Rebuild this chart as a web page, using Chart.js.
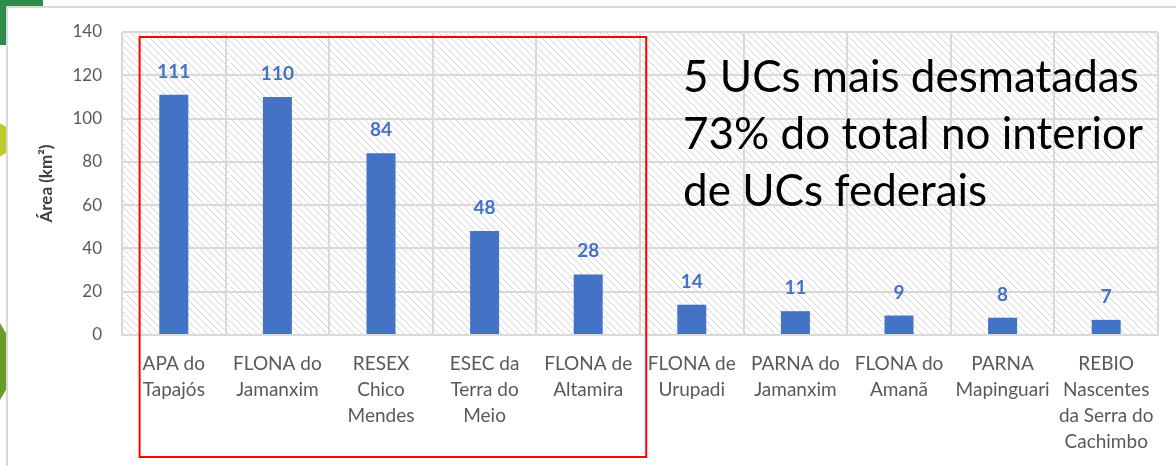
<!DOCTYPE html>
<html>
<head>
<meta charset="utf-8">
<script src="https://cdn.jsdelivr.net/npm/chart.js@4"></script>
<style>
  html, body { margin: 0; padding: 0; background: #fff; overflow: hidden; }
  #wrap { position: relative; width: 1176px; height: 466px; }
  .deco { position: absolute; }
  #frame { position: absolute; left: 6px; top: 6px; width: 1180px; height: 470px;
           border: 2px solid #d9d9d9; background: #fff; }
  #c { position: absolute; left: 0; top: 0; }
  #note { position: absolute; left: 683px; top: 47px; font-family: Lato, sans-serif;
          font-size: 44px; line-height: 57px; color: #000; white-space: nowrap; }
</style>
</head>
<body>
<div id="wrap">
  <div class="deco" style="left:0;top:0;width:43px;height:45px;background:#2f8a4c;"></div>
  <div class="deco" style="left:-22px;top:123px;width:34px;height:34px;border-radius:50%;background:#b9cc27;"></div>
  <div class="deco" style="left:0;top:323px;width:9px;height:77px;background:#6a9a2b;clip-path:polygon(0 0,100% 20%,100% 80%,0 100%);"></div>
  <div id="frame"></div>
  <canvas id="c" width="1176" height="466"></canvas>
  <div id="note">5 UCs mais desmatadas<br>73% do total no interior<br>de UCs federais</div>
</div>
<script>
var categories = [
  ["APA do", "Tapajós"],
  ["FLONA do", "Jamanxim"],
  ["RESEX", "Chico", "Mendes"],
  ["ESEC da", "Terra do", "Meio"],
  ["FLONA de", "Altamira"],
  ["FLONA de", "Urupadi"],
  ["PARNA do", "Jamanxim"],
  ["FLONA do", "Amanã"],
  ["PARNA", "Mapinguari"],
  ["REBIO", "Nascentes", "da Serra do", "Cachimbo"]
];
var area = [111, 110, 84, 48, 28, 14, 11, 9, 8, 7];
var yTicks = [0, 20, 40, 60, 80, 100, 120, 140];
var topCount = 5;

// hatched plot background
var hatch = {
  id: 'hatch',
  beforeDraw: function(chart) {
    var a = chart.chartArea, ctx = chart.ctx;
    var p = document.createElement('canvas');
    p.width = 7; p.height = 7;
    var pc = p.getContext('2d');
    pc.strokeStyle = '#d6d6d6';
    pc.lineWidth = 1;
    pc.beginPath();
    pc.moveTo(-1, -1); pc.lineTo(8, 8);
    pc.moveTo(-1, 6); pc.lineTo(1, 8);
    pc.moveTo(6, -1); pc.lineTo(8, 1);
    pc.stroke();
    ctx.save();
    ctx.fillStyle = ctx.createPattern(p, 'repeat');
    ctx.fillRect(a.left, a.top, a.right - a.left, a.bottom - a.top);
    ctx.restore();
  }
};

// value labels above bars
var valueLabels = {
  id: 'valueLabels',
  afterDatasetsDraw: function(chart) {
    var ctx = chart.ctx;
    var meta = chart.getDatasetMeta(0);
    ctx.save();
    ctx.font = 'bold 19px Lato, sans-serif';
    ctx.fillStyle = '#4472c4';
    ctx.textAlign = 'center';
    ctx.textBaseline = 'alphabetic';
    meta.data.forEach(function(bar, i) {
      ctx.fillText(area[i], bar.x, bar.y - 17);
    });
    ctx.restore();
  }
};

// red box around the top five
var redBox = {
  id: 'redBox',
  afterDraw: function(chart) {
    var xs = chart.scales.x, ys = chart.scales.y, ctx = chart.ctx;
    var step = xs.width / categories.length;
    var l = xs.getPixelForValue(0) - step * 0.33;
    var r = xs.getPixelForValue(topCount - 1) + step * 0.56;
    var t = ys.getPixelForValue(140) + 5;
    var b = chart.height - 9;
    ctx.save();
    ctx.strokeStyle = '#ff0000';
    ctx.lineWidth = 2;
    ctx.strokeRect(l, t, r - l, b - t);
    ctx.restore();
  }
};

var ctx = document.getElementById('c');
var chart = new Chart(ctx, {
  type: 'bar',
  data: {
    labels: categories,
    datasets: [{
      data: area,
      backgroundColor: '#4472c4',
      borderWidth: 0,
      barPercentage: 0.28,
      categoryPercentage: 1.0
    }]
  },
  options: {
    responsive: false,
    animation: false,
    layout: { padding: { top: 32, right: 18, left: 0, bottom: 0 } },
    plugins: { legend: { display: false }, tooltip: { enabled: false } },
    scales: {
      x: {
        grid: { color: '#d9d9d9', lineWidth: 2, drawTicks: false, offset: true },
        border: { color: '#d9d9d9', width: 2 },
        ticks: {
          color: '#595959', font: { family: 'Lato, sans-serif', size: 19, lineHeight: 1.37 },
          padding: 16, maxRotation: 0, autoSkip: false
        },
        afterFit: function(s) { s.height = 131; }
      },
      y: {
        min: 0, max: 140,
        afterBuildTicks: function(s) { s.ticks = yTicks.map(function(v) { return { value: v }; }); },
        grid: { color: '#d9d9d9', lineWidth: 2, drawTicks: false },
        border: { display: false },
        ticks: { color: '#595959', font: { family: 'Lato, sans-serif', size: 17 }, padding: 20 },
        title: {
          display: true, text: 'Área (km²)', color: '#404040',
          font: { family: 'Lato, sans-serif', size: 17, weight: 'bold' },
          padding: { top: 36, bottom: 0 }
        },
        afterFit: function(s) { s.width = 122; }
      }
    }
  },
  plugins: [hatch, valueLabels, redBox]
});
</script>
</body>
</html>
